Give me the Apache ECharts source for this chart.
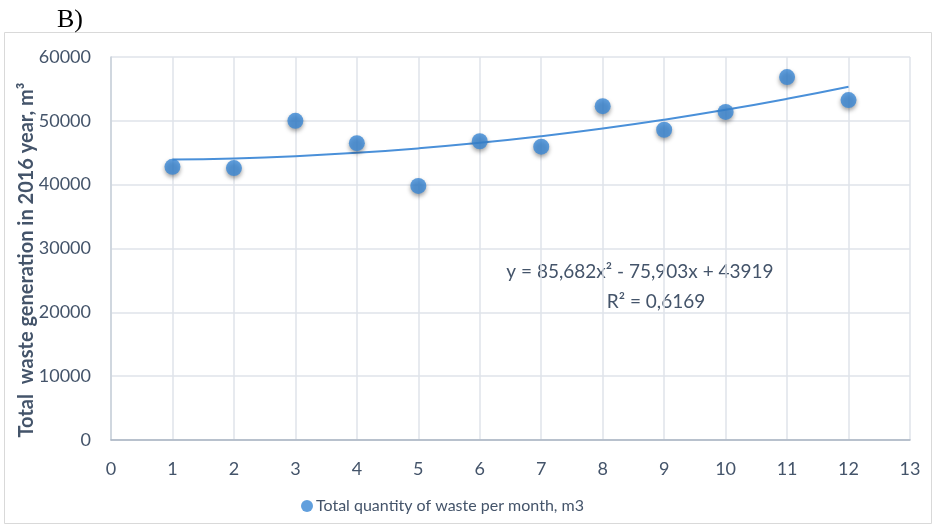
<!DOCTYPE html>
<html>
<head>
<meta charset="utf-8">
<script src="https://cdn.jsdelivr.net/npm/echarts@6/dist/echarts.min.js"></script>
<style>
html,body{margin:0;padding:0;background:#fff;}
#c{width:936px;height:527px;}
</style>
</head>
<body>
<div id="c"></div>
<script>
// Data
var months = [1, 2, 3, 4, 5, 6, 7, 8, 9, 10, 11, 12];
var wasteValues = [42800, 42600, 50000, 46500, 39800, 46800, 45950, 52300, 48600, 51400, 56850, 53250];
// Trendline values
var trendValues = [43929, 44110, 44462, 44986, 45682, 46548, 47586, 48795, 50176, 51728, 53452, 55346];
var xTicks = [0, 1, 2, 3, 4, 5, 6, 7, 8, 9, 10, 11, 12, 13];
var yTicks = [0, 10000, 20000, 30000, 40000, 50000, 60000];
var seriesName = 'Total quantity of waste per month, m3';
var yAxisTitle = 'Total  waste generation in 2016 year, m\u00B3';
var equationText = 'y = 85,682x\u00B2 - 75,903x + 43919';
var r2Text = 'R\u00B2 = 0,6169';
var panelLabel = 'B)';

var scatterData = months.map(function (m, i) { return [m, wasteValues[i]]; });
var trendData = months.map(function (m, i) { return [m, trendValues[i]]; });

var textColor = '#44546a';
var font = 'Lato, "Open Sans", sans-serif';

var chart = echarts.init(document.getElementById('c'));
chart.setOption({
  animation: false,
  backgroundColor: '#ffffff',
  title: {
    text: panelLabel,
    left: 52, top: 2,
    textStyle: { fontFamily: '"Liberation Serif", "DejaVu Serif", serif', fontWeight: 'normal', fontSize: 26, color: '#000' }
  },
  graphic: [
    { type: 'rect', shape: { x: 4.5, y: 32.5, width: 927, height: 491 }, style: { fill: 'none', stroke: '#d9d9d9', lineWidth: 1 }, z: -1 },
    { type: 'text', x: 640, y: 272, style: { text: equationText, fill: textColor, font: '19px ' + font, textAlign: 'center', textVerticalAlign: 'middle' } },
    { type: 'text', x: 656, y: 302, style: { text: r2Text, fill: textColor, font: '19px ' + font, textAlign: 'center', textVerticalAlign: 'middle' } },
    { type: 'text', x: 27, y: 260, rotation: Math.PI / 2, style: { text: yAxisTitle, fill: textColor, font: 'bold 20px ' + font, textAlign: 'center', textVerticalAlign: 'middle' } }
  ],
  legend: {
    bottom: 8, left: 296,
    data: [{ name: seriesName, icon: 'circle' }],
    itemWidth: 12, itemHeight: 12, itemGap: 4,
    textStyle: { color: textColor, fontSize: 16, fontFamily: font, padding: [0, 0, 0, -2] }
  },
  grid: { left: 111, right: 26, top: 57, bottom: 87, containLabel: false },
  xAxis: {
    type: 'value', min: 0, max: 13, interval: 1,
    axisLine: { show: true, lineStyle: { color: '#a9b4c2', width: 1.5 } },
    axisTick: { show: false },
    axisLabel: { color: textColor, fontSize: 18, fontFamily: font, margin: 20 },
    splitLine: { show: true, lineStyle: { color: '#dfe3ea', width: 1.5 } }
  },
  yAxis: {
    type: 'value', min: 0, max: 60000, interval: 10000,
    axisLine: { show: true, lineStyle: { color: '#c9d0da', width: 1.5 } },
    axisTick: { show: false },
    axisLabel: { color: textColor, fontSize: 18, fontFamily: font, margin: 20, formatter: function (v) { return String(v); } },
    splitLine: { show: true, lineStyle: { color: '#dfe3ea', width: 1.5 } }
  },
  series: [
    {
      name: 'trend', type: 'line', data: trendData, smooth: true, showSymbol: false,
      lineStyle: { color: '#4a90d9', width: 2 }, z: 2, silent: true
    },
    {
      name: seriesName, type: 'scatter', data: scatterData, symbolSize: 16,
      itemStyle: { color: '#3a87d4', shadowBlur: 4, shadowColor: 'rgba(0,0,0,0.45)', shadowOffsetY: 2.5 },
      z: 3
    }
  ]
});
</script>
</body>
</html>
